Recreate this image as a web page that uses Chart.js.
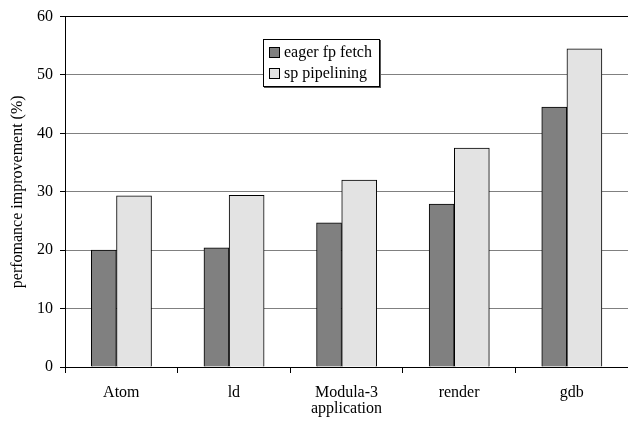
<!DOCTYPE html>
<html>
<head>
<meta charset="utf-8">
<script src="https://cdn.jsdelivr.net/npm/chart.js@4"></script>
<style>
  html, body { margin: 0; padding: 0; background: #fff; overflow: hidden; }
  #wrap { width: 628px; height: 424px; }
</style>
</head>
<body>
<div id="wrap"><canvas id="chart"></canvas></div>
<script>
// values
const apps = ['Atom', 'ld', 'Modula-3', 'render', 'gdb'];
const eagerFpFetch = [20.0, 20.4, 24.7, 27.9, 44.5];
const spPipelining = [29.3, 29.4, 32.0, 37.5, 54.5];
const yTicks = [0, 10, 20, 30, 40, 50, 60];

const serif = '"Liberation Serif", "DejaVu Serif", serif';

// the two bars of a group are not the same width in the original (sp bar overlaps eager bar),
// so they are put on a hidden linear axis, shifted a bit off the category centre
function barPoints(values, shift) {
    return values.map((v, i) => ({ x: i + shift, y: v }));
}

// legend box drawn inside the plot area, like the original
const boxLegend = {
    id: 'boxLegend',
    afterDatasetsDraw(chart) {
        const ctx = chart.ctx;
        const x = 263, y = 39, w = 116, h = 47;
        ctx.save();
        ctx.fillStyle = '#555';
        ctx.fillRect(x + 1, y + 1, w + 1, h + 1);
        ctx.fillStyle = '#fff';
        ctx.fillRect(x, y, w, h);
        ctx.strokeStyle = '#000';
        ctx.lineWidth = 1;
        ctx.strokeRect(x + 0.5, y + 0.5, w, h);
        ctx.font = '16px ' + serif;
        ctx.textBaseline = 'middle';
        chart.data.datasets.forEach((ds, i) => {
            const cy = y + 13 + i * 21;
            ctx.fillStyle = ds.backgroundColor;
            ctx.fillRect(x + 6, cy - 5, 10, 10);
            ctx.strokeRect(x + 6.5, cy - 4.5, 10, 10);
            ctx.fillStyle = '#000';
            ctx.fillText(ds.label, x + 21, cy + 1);
        });
        ctx.restore();
    }
};

new Chart(document.getElementById('chart'), {
    type: 'bar',
    data: {
        labels: apps,
        datasets: [{
            label: 'eager fp fetch',
            data: barPoints(eagerFpFetch, -0.155),
            xAxisID: 'xb',
            barThickness: 25,
            backgroundColor: '#808080',
            borderColor: '#000',
            borderWidth: 1,
            borderSkipped: 'bottom'
        }, {
            label: 'sp pipelining',
            data: barPoints(spPipelining, 0.113),
            xAxisID: 'xb',
            barThickness: 35,
            backgroundColor: '#e3e3e3',
            borderColor: '#000',
            borderWidth: 1,
            borderSkipped: 'bottom'
        }]
    },
    options: {
        responsive: true,
        maintainAspectRatio: false,
        animation: false,
        grouped: false,
        layout: { padding: { top: 13, left: 0, right: 0, bottom: 0 } },
        plugins: {
            legend: { display: false },
            tooltip: { enabled: false }
        },
        scales: {
            xb: {
                type: 'linear',
                display: false,
                offset: false,
                min: -0.5,
                max: apps.length - 0.5
            },
            x: {
                type: 'category',
                grid: {
                    display: true,
                    offset: true,
                    drawOnChartArea: false,
                    tickLength: 6,
                    color: '#000'
                },
                border: { display: true, color: '#000', width: 1 },
                ticks: {
                    color: '#000',
                    font: { family: serif, size: 16 },
                    padding: 10
                },
                title: {
                    display: true,
                    text: 'application',
                    color: '#000',
                    font: { family: serif, size: 16 },
                    padding: { top: 0, bottom: 6 }
                },
                afterFit(scale) { scale.height = 57; }
            },
            y: {
                min: 0,
                max: 60,
                afterBuildTicks(scale) {
                    scale.ticks = yTicks.map(v => ({ value: v }));
                },
                grid: {
                    color: ctx => (ctx.tick && ctx.tick.value === 60) ? '#000' : '#808080',
                    tickColor: '#000',
                    tickLength: 5
                },
                border: { display: true, color: '#000', width: 1 },
                ticks: {
                    color: '#000',
                    font: { family: serif, size: 16 },
                    padding: 7
                },
                title: {
                    display: true,
                    text: 'perfomance improvement (%)',
                    color: '#000',
                    font: { family: serif, size: 16 },
                    padding: { top: 8, bottom: 0 }
                },
                afterFit(scale) { scale.width = 65; }
            }
        }
    },
    plugins: [boxLegend]
});
</script>
</body>
</html>
